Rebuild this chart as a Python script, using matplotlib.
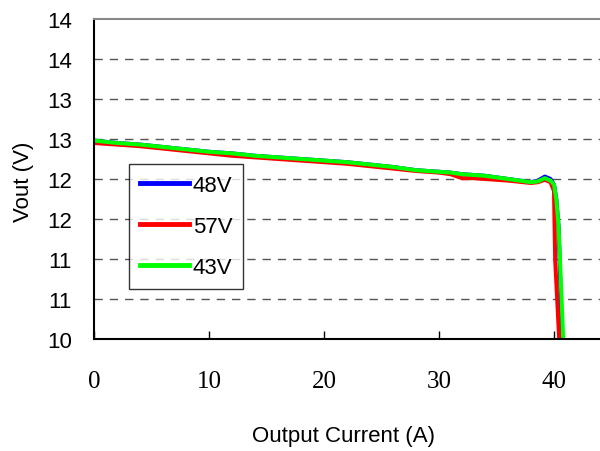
import matplotlib
matplotlib.use("Agg")
import matplotlib.pyplot as plt

# output current (A) and Vout (V) per input voltage
i_48v = [0, 2, 4, 6, 8, 10, 12, 14, 16, 18, 20, 22, 24, 26, 28, 30, 31, 32, 33, 34, 36, 38,
         38.6, 39.2, 39.7, 40.0, 40.2, 40.4, 40.7]
v_48v = [12.48, 12.45, 12.43, 12.40, 12.37, 12.34, 12.32, 12.29, 12.27, 12.25, 12.23, 12.21,
         12.18, 12.15, 12.11, 12.09, 12.08, 12.06, 12.05, 12.04, 12.00, 11.96,
         11.98, 12.03, 12.00, 11.93, 11.75, 11.40, 10.00]

i_57v = [0, 2, 4, 6, 8, 10, 12, 14, 16, 18, 20, 22, 24, 26, 28, 30, 31, 32, 33, 34, 36, 38,
         38.6, 39.2, 39.7, 40.0, 40.1, 40.45]
v_57v = [12.45, 12.43, 12.41, 12.38, 12.35, 12.32, 12.29, 12.27, 12.25, 12.23, 12.21, 12.19,
         12.16, 12.13, 12.10, 12.08, 12.06, 12.01, 12.01, 12.00, 11.98, 11.95,
         11.96, 11.99, 11.96, 11.85, 11.00, 10.00]

i_43v = [0, 2, 4, 6, 8, 10, 12, 14, 16, 18, 20, 22, 24, 26, 28, 30, 31, 32, 33, 34, 36, 38,
         38.6, 39.2, 39.7, 40.0, 40.2, 40.4, 40.8]
v_43v = [12.48, 12.45, 12.43, 12.40, 12.37, 12.34, 12.32, 12.29, 12.27, 12.25, 12.23, 12.21,
         12.18, 12.15, 12.11, 12.09, 12.08, 12.06, 12.05, 12.04, 12.00, 11.96,
         11.97, 12.01, 11.98, 11.93, 11.75, 11.40, 10.00]

x_ticks = [0, 10, 20, 30, 40]
y_ticks = [10, 10.5, 11, 11.5, 12, 12.5, 13, 13.5, 14]
y_tick_labels = ["10", "11", "11", "12", "12", "13", "13", "14", "14"]

sans = ["Liberation Sans", "DejaVu Sans"]
serif = ["Liberation Serif", "DejaVu Serif"]

fig = plt.figure(figsize=(6, 4.52), dpi=100)
ax = fig.add_axes([0.1567, 0.2478, 0.8433, 0.708])

ax.plot(i_48v, v_48v, color="#0000ff", lw=2.9, label="48V", solid_joinstyle="round")
ax.plot(i_57v, v_57v, color="#ff0000", lw=2.9, label="57V", solid_joinstyle="round")
ax.plot(i_43v, v_43v, color="#00ff00", lw=2.9, label="43V", solid_joinstyle="round")

ax.set_xlim(0, 44.0)
ax.set_ylim(10, 14)

# dashed grid
for y in y_ticks[1:-1]:
    ax.axhline(y, color="#555555", lw=1, ls=(0, (6, 5)), zorder=0)

ax.spines["right"].set_visible(False)
ax.spines["top"].set_color("#888888")
ax.spines["top"].set_linewidth(1.5)
for s in ["left", "bottom"]:
    ax.spines[s].set_linewidth(1.5)
    ax.spines[s].set_color("black")

ax.set_xticks(x_ticks)
ax.set_xticklabels([str(t) for t in x_ticks], family=serif, fontsize=18)
ax.tick_params(axis="x", direction="in", length=6, width=1, pad=22)

ax.set_yticks(y_ticks)
ax.set_yticklabels(y_tick_labels, family=sans, fontsize=16)
ax.tick_params(axis="y", length=0, pad=16)

ax.set_xlabel("Output Current (A)", family=sans, fontsize=16)
ax.xaxis.set_label_coords(0.494, -0.303)
ax.xaxis.label.set_va("center")
ax.set_ylabel("Vout (V)", family=sans, fontsize=16)
ax.yaxis.set_label_coords(-0.140, 0.494)
ax.yaxis.label.set_va("center")

leg = ax.legend(loc="upper left", bbox_to_anchor=(0.0698, 0.547), prop={"family": sans, "size": 16},
                frameon=True, fancybox=False, handlelength=2.2, handletextpad=0.15,
                labelspacing=0.9, borderpad=0.5, borderaxespad=0)
leg.get_frame().set_edgecolor("black")
leg.get_frame().set_linewidth(1)
for line in leg.get_lines():
    line.set_linewidth(3.5)

fig.savefig("out.png", dpi=100)
